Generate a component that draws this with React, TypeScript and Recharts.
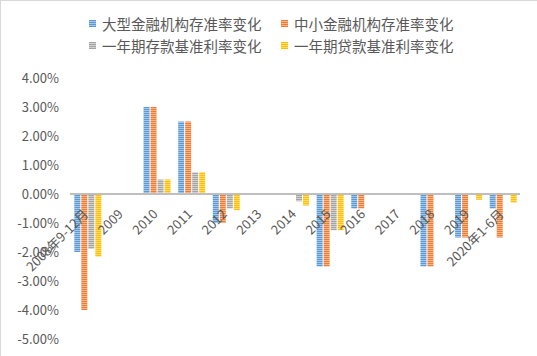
import { BarChart, Bar, XAxis, YAxis, ReferenceLine } from "recharts";

const categories = [
  "2008年9-12月",
  "2009",
  "2010",
  "2011",
  "2012",
  "2013",
  "2014",
  "2015",
  "2016",
  "2017",
  "2018",
  "2019",
  "2020年1-6月",
];

// changes in percentage points
const largeRrr = [-2.0, null, 3.0, 2.5, -1.0, null, null, -2.5, -0.5, null, -2.5, -1.5, -0.5];
const smallRrr = [-4.0, null, 3.0, 2.5, -1.0, null, null, -2.5, -0.5, null, -2.5, -1.5, -1.5];
const depositRate = [-1.89, null, 0.5, 0.75, -0.5, null, -0.25, -1.25, null, null, null, null, null];
const loanRate = [-2.16, null, 0.5, 0.75, -0.56, null, -0.4, -1.25, null, null, null, -0.2, -0.3];

const yTicks = [4, 3, 2, 1, 0, -1, -2, -3, -4, -5];

const SERIES = [
  { key: "large", name: "大型金融机构存准率变化", color: "#5B9BD5", light: "#A3C5E8" },
  { key: "small", name: "中小金融机构存准率变化", color: "#ED7D31", light: "#F4B48A" },
  { key: "deposit", name: "一年期存款基准利率变化", color: "#A5A5A5", light: "#CFCFCF" },
  { key: "loan", name: "一年期贷款基准利率变化", color: "#FFC000", light: "#FFDB70" },
];

const data = categories.map((name, i) => ({
  name,
  large: largeRrr[i],
  small: smallRrr[i],
  deposit: depositRate[i],
  loan: loanRate[i],
}));

const W = 537;
const H = 356;
const MARGIN = { top: 77, right: 18, bottom: 17, left: 0 };
const X_AXIS_H = 1;
const Y_MIN = -5;
const Y_MAX = 4;
const PLOT_H = H - MARGIN.top - MARGIN.bottom - X_AXIS_H;
// where the value 0 sits, so the category labels hang off the zero line
const ZERO_Y = MARGIN.top + (PLOT_H * Y_MAX) / (Y_MAX - Y_MIN);

const FONT = '"Noto Sans CJK SC", "Microsoft YaHei", sans-serif';
const TEXT = "#595959";

function CategoryTick({ x, payload }: any) {
  const tx = x + 2;
  const ty = ZERO_Y + 21;
  return (
    <text
      x={tx}
      y={ty}
      transform={`rotate(-45 ${tx} ${ty})`}
      textAnchor="end"
      fill={TEXT}
      fontSize={13}
      fontFamily={FONT}
    >
      {payload.value}
    </text>
  );
}

function stripes(s: (typeof SERIES)[number]) {
  return `repeating-linear-gradient(to bottom, ${s.color} 0px, ${s.color} 1px, ${s.light} 1px, ${s.light} 2px)`;
}

function ChartLegend() {
  const rows = [SERIES.slice(0, 2), SERIES.slice(2, 4)];
  return (
    <div style={{ position: "absolute", left: 88, top: 12, fontFamily: FONT, fontSize: 14.5, color: TEXT }}>
      {rows.map((row, r) => (
        <div key={r} style={{ display: "flex", height: 21.5, alignItems: "center" }}>
          {row.map((s, c) => (
            <div key={s.key} style={{ display: "flex", alignItems: "center", width: c === 0 ? 192 : "auto" }}>
              <div style={{ width: 7, height: 7, background: stripes(s), marginRight: 6 }} />
              <span style={{ whiteSpace: "nowrap" }}>{s.name}</span>
            </div>
          ))}
        </div>
      ))}
    </div>
  );
}

export default function App() {
  return (
    <div
      style={{
        position: "fixed",
        left: 0,
        top: 0,
        width: W,
        height: H,
        background: "#fff",
        boxSizing: "border-box",
        borderLeft: "1px solid #d9d9d9",
        borderTop: "1px solid #d9d9d9",
      }}
    >
      <ChartLegend />
      <BarChart
        width={W}
        height={H}
        data={data}
        margin={MARGIN}
        barCategoryGap="12.5%"
        barGap={1}
        style={{ position: "absolute", left: 0, top: 0 }}
      >
        <defs>
          {SERIES.map((s) => (
            <pattern key={s.key} id={`pat-${s.key}`} patternUnits="userSpaceOnUse" width={4} height={2}>
              <rect x={0} y={0} width={4} height={2} fill={s.color} />
              <rect x={0} y={1} width={4} height={1} fill={s.light} />
            </pattern>
          ))}
        </defs>
        <YAxis
          width={69}
          domain={[Y_MIN, Y_MAX]}
          ticks={yTicks}
          interval={0}
          axisLine={false}
          tickLine={false}
          tickMargin={5}
          tickFormatter={(v: number) => `${v.toFixed(2)}%`}
          tick={{ fill: TEXT, fontSize: 13, fontFamily: FONT }}
        />
        <ReferenceLine y={0} stroke="#BFBFBF" strokeWidth={2} />
        {SERIES.map((s) => (
          <Bar key={s.key} dataKey={s.key} name={s.name} fill={`url(#pat-${s.key})`} isAnimationActive={false} />
        ))}
        <XAxis
          dataKey="name"
          height={X_AXIS_H}
          interval={0}
          axisLine={false}
          tickLine={false}
          tick={<CategoryTick />}
        />
      </BarChart>
    </div>
  );
}
